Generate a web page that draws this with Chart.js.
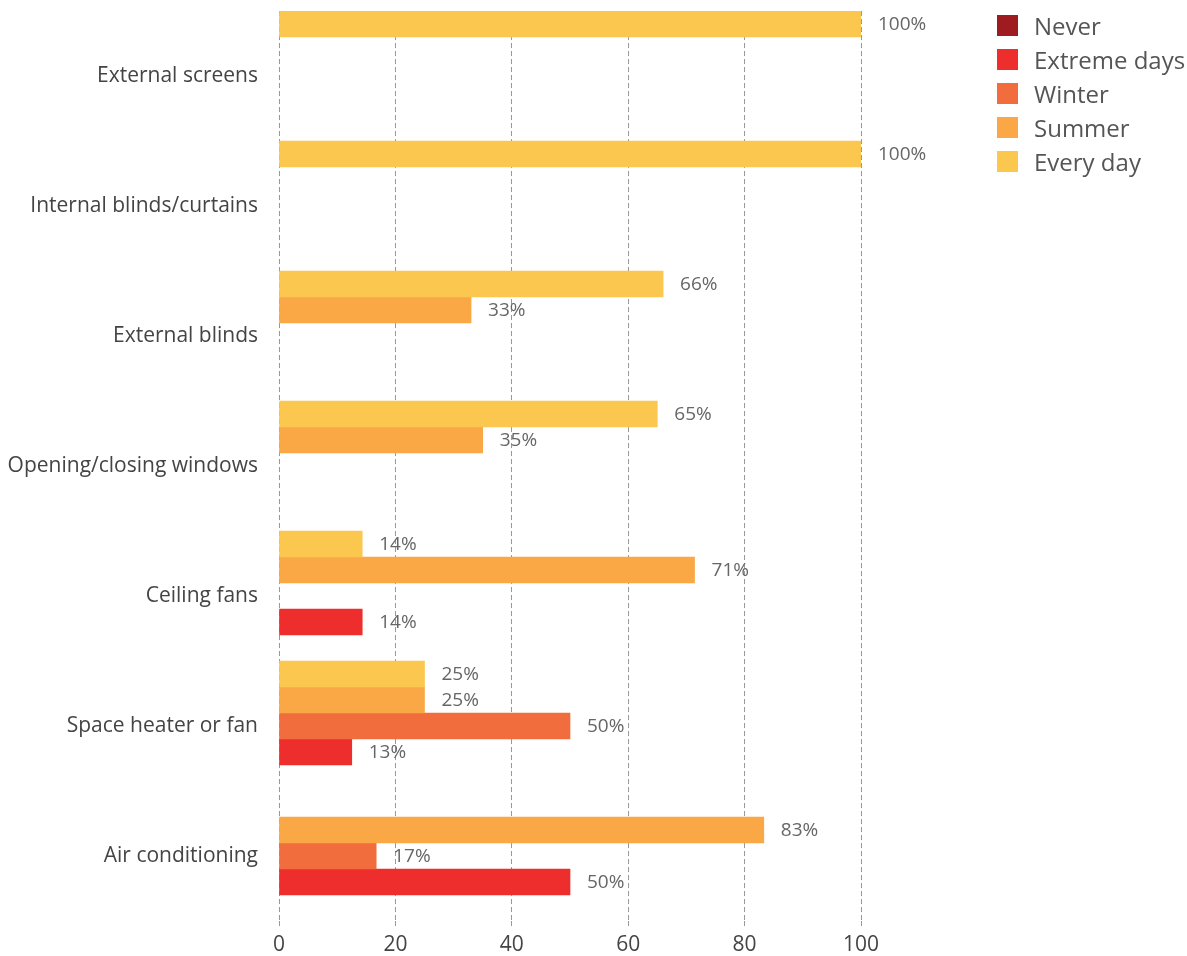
<!DOCTYPE html>
<html>
<head>
<meta charset="utf-8">
<script src="https://cdn.jsdelivr.net/npm/chart.js@4/dist/chart.umd.min.js"></script>
<style>
  body { margin: 0; background: #fff; font-family: "Open Sans", sans-serif; }
  .wrap { position: relative; width: 1187px; height: 956px; }
  #legend { position: absolute; left: 997px; top: 15px; margin: 0; padding: 0; list-style: none; }
  #legend li { display: flex; align-items: center; height: 34px; margin-top: -7px; margin-bottom: 7px; font-size: 24px; color: #555; }
  #legend li span { display: inline-block; width: 21px; height: 21px; margin-right: 16px; }
</style>
</head>
<body>
<div class="wrap">
  <canvas id="usageChart" width="1187" height="956"></canvas>
  <ul id="legend"></ul>
</div>
<script>
const categories = [
  "External screens",
  "Internal blinds/curtains",
  "External blinds",
  "Opening/closing windows",
  "Ceiling fans",
  "Space heater or fan",
  "Air conditioning"
];

// % of respondents
const everyDay = [100, 100, 66, 65, 14.3, 25, null];
const summer = [null, null, 33, 35, 71.4, 25, 83.3];
const winter = [null, null, null, null, null, 50, 16.7];
const extremeDays = [null, null, null, null, 14.3, 12.5, 50];
const never = [null, null, null, null, null, null, null];

const xTicks = [0, 20, 40, 60, 80, 100];

const seriesNames = ["Every day", "Summer", "Winter", "Extreme days", "Never"];
const seriesColors = ["#FCC74F", "#F9A845", "#F26D3D", "#EE2E2C", "#9E1B20"];

// draws "NN%" to the right of each bar
const valueLabels = {
  id: "valueLabels",
  afterDatasetsDraw(chart) {
    const ctx = chart.ctx;
    ctx.save();
    ctx.font = "19px 'Open Sans'";
    ctx.fillStyle = "#666";
    ctx.textAlign = "left";
    ctx.textBaseline = "middle";
    chart.data.datasets.forEach((ds, i) => {
      const meta = chart.getDatasetMeta(i);
      meta.data.forEach((bar, j) => {
        const v = ds.data[j];
        if (v === null || v === undefined) return;
        ctx.fillText(Math.round(v) + "%", bar.x + 17, bar.y + 1);
      });
    });
    ctx.restore();
  }
};

const datasets = [everyDay, summer, winter, extremeDays, never].map((values, i) => ({
  label: seriesNames[i],
  data: values,
  backgroundColor: seriesColors[i],
  borderWidth: 0,
  categoryPercentage: 1,
  barPercentage: 1
}));

const chart = new Chart(document.getElementById("usageChart"), {
  type: "bar",
  data: { labels: categories, datasets: datasets },
  options: {
    indexAxis: "y",
    responsive: false,
    animation: false,
    layout: { padding: { top: 11, right: 326, bottom: 0, left: 0 } },
    plugins: {
      legend: { display: false },
      tooltip: { enabled: false }
    },
    scales: {
      x: {
        min: 0,
        max: 100,
        afterBuildTicks: (scale) => {
          scale.ticks = xTicks.map((v) => ({ value: v }));
        },
        afterFit: (scale) => {
          scale.height = 35;
        },
        grid: {
          color: "#999",
          tickLength: 5,
          tickColor: "#999",
          tickBorderDash: [5, 3]
        },
        border: { display: false, dash: [5, 3] },
        ticks: {
          color: "#444",
          padding: 6,
          font: { family: "Open Sans", size: 21 }
        }
      },
      y: {
        grid: { display: false, drawTicks: false },
        border: { display: false },
        afterFit: (scale) => {
          scale.width = 279;
          scale.paddingTop = 0;
          scale.paddingBottom = 0;
        },
        ticks: {
          color: "#444",
          padding: 21,
          font: { family: "Open Sans", size: 21 }
        }
      }
    }
  },
  plugins: [valueLabels]
});

// legend, reversed like the original
const legendEl = document.getElementById("legend");
seriesNames.slice().reverse().forEach((name, k) => {
  const color = seriesColors[seriesNames.length - 1 - k];
  const li = document.createElement("li");
  li.innerHTML = '<span style="background:' + color + '"></span>' + name;
  legendEl.appendChild(li);
});
</script>
</body>
</html>
